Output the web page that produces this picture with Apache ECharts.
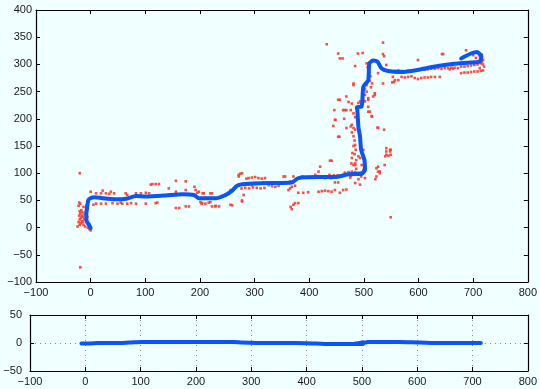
<!DOCTYPE html>
<html>
<head>
<meta charset="utf-8">
<script src="https://cdn.jsdelivr.net/npm/echarts@6/dist/echarts.min.js"></script>
<style>
html, body { margin: 0; padding: 0; background: #f0ffff; }
#chart { width: 540px; height: 389px; }
</style>
</head>
<body>
<div id="chart"></div>
<script>
// estimated trajectory (top: x-y view, bottom: x-z view)
var pathX = [0, -3, -7, -8, -7, -4, 2, 7, 22, 46, 65, 83, 101, 137, 168, 189, 198, 210, 229, 247,
  259, 268, 283, 326, 368, 380, 417, 447, 472, 496, 502, 501, 495, 493, 490, 488, 487, 496, 499, 508,
  510, 517, 525, 532, 544, 569, 599, 630, 666, 690, 712, 715, 707, 696, 678];
var pathY = [-1, 5, 11, 22, 33, 51, 55, 56, 54, 52, 53, 58, 57, 59, 61.5, 60, 54, 54, 54, 60,
  68, 77, 80, 82, 83, 91, 93, 93, 98, 99, 106, 124, 143, 167, 185, 216, 221, 223, 259, 271,
  302, 307, 305, 293, 288, 286, 290, 296, 301, 303, 305, 314, 323, 320, 311];
var pathZ = [-1, -1, -1, -1, -1, -1, -1, -1, 0, 0, 0, 1, 2, 2, 2, 2, 2, 2, 2, 2,
  2, 2, 1, 0, 0, 0, -1, -2, -2, -2, -2, -2, -2, -1, -1, -1, -1, 0, 1, 1,
  2, 2, 2, 2, 2, 2, 1, 0, 0, 0, 0, 0, 0, 0, 0];

// raw measurements (red dots)
var obsPoints = [
  [-21,46],[-19,44],[-22,40],[-20,30],[-17,32],[-15,28],[-21,22],[-18,18],[-14,20],[-20,15],
  [-16,12],[-22,10],[-18,8],[-13,5],[-10,2],[-5,0],[-2,-3],[0,-5],[-12,15],[-11,25],
  [-9,30],[-13,38],[-16,22],[-20,5],[-24,2],[-8,40],[-19,26],[-14,10],[-2,5],[-6,20],
  [-20,100],[-19,-73],
  [0,66],[10,63],[19,63],[28,63],[34,62],[43,63],[22,68],[37,66],[64,63],[67,60],[83,63],[92,63],
  [101,64],[107,63],[110,79],[113,80],[119,80],[125,80],
  [10,44],[19,44],[28,44],[49,44],[58,44],[67,44],[74,45],[83,44],[101,44],[119,45],[122,46],
  [5,42],[40,45],[55,46],
  [143,72],[156,66],[174,69],[190,75],[156,86],[174,85],[156,36],[174,39],[180,39],[162,36],
  [192,69],[198,66],[207,63],[216,54],[219,63],[205,63],[195,64],
  [204,45],[210,44],[216,46],[201,47],[203,44],[219,47],
  [222,39],[228,39],[235,39],[229,40],
  [247,60],[256,69],[259,41],[256,42],[222,63],
  [271,94],[277,100],[274,99],[271,97],[277,50],[277,48],[280,60],
  [289,91],[295,92],[301,93],[307,91],[313,90],[319,91],[285,90],
  [289,79],[295,78],[301,80],[276,72],[283,73],[290,72],[297,74],[304,73],[311,72],[318,73],
  [326,78],[332,76],[338,75],[344,77],[330,82],
  [353,94],[356,94],[365,85],[371,94],[368,75],[374,77],[362,69],[365,72],
  [380,64],[389,64],[398,65],[386,94],[389,94],
  [374,45],[371,42],[368,34],[366,38],[380,45],
  [411,97],[417,103],[420,112],[438,123],[441,94],
  [417,66],[423,67],[429,68],[435,67],[441,66],[447,69],
  [447,83],[453,83],[456,64],[462,69],[468,70],
  [465,101],[472,102],[478,103],[484,102],[490,101],[496,102],[502,111],
  [484,82],[493,79],[490,89],
  [477,118],[484,115],[493,128],[490,131],[499,143],[479,137],
  [523,109],[526,103],[529,100],[521,89],
  [538,115],[541,134],[548,140],[549,143],[549,19],
  [478,189],[481,183],[476,186],[484,180],[478,175],[481,168],[483,160],[484,152],[481,150],[485,143],
  [483,135],[478,128],[486,124],[484,118],[481,115],[486,108],[487,100],[480,97],[476,95],
  [432,94],[437,97],[445,96],[452,96],[466,98],[475,92],[429,91],[440,91],
  [496,115],[499,106],[495,94],[502,91],
  [526,112],[529,103],[523,94],
  [541,146],[548,143],[545,132],[539,131],[441,123],
  [526,183],[537,180],
  [511,213],[514,205],
  [456,235],[446,216],[448,198],[444,187],[455,167],[462,216],[464,200],
  [468,241],[472,231],[478,228],[476,216],[481,210],[465,216],[484,203],
  [505,250],[502,244],[499,235],[493,232],[490,229],[496,226],[502,232],[508,235],
  [520,247],[517,241],
  [505,302],[507,295],[510,285],[512,278],[511,270],[515,265],[513,258],[505,262],[502,255],
  [526,284],[535,265],[552,267],[553,277],[561,285],[541,299],[481,265],
  [432,337],[535,340],[453,320],[456,311],[461,311],[489,320],[498,321],[535,319],[537,315],[484,297],
  [447,198],[453,235],[468,216],[453,167],[468,183],
  [481,262],[525,184],[515,204],[520,244],[508,238],[508,213],[508,222],
  [549,134],[541,140],
  [643,319],[599,308],[687,326],[645,319],
  [557,288],[563,289],[569,288],[575,287],[581,288],[587,289],[593,289],[599,290],[605,291],[611,290],
  [617,291],[623,292],[630,292],[636,293],[642,292],[648,293],[654,293],[660,294],[666,294],
  [557,271],[555,268],[563,271],[569,277],
  [575,276],[581,277],[587,278],[593,275],[599,273],[605,275],[611,276],[617,276],[623,277],[630,277],[639,277],
  [657,291],[663,292],[672,293],[678,284],[684,285],[690,285],[696,286],[702,287],[708,287],[714,288],[718,289],
  [678,296],[684,296],[690,297],[696,298],[702,299],[708,300],[714,302],[716,305],[718,308],[714,311],
  [712,315],[716,318],[710,320],[700,317],[705,312],[718,300],[720,296],[712,293]
];

var xRange = [-100, 800];   // both panels, step 100
var yRangeTop = [-100, 400]; // step 50
var yRangeSide = [-50, 50];  // step 50

var chart = echarts.init(document.getElementById('chart'));

var font = 'Liberation Sans, Arial, sans-serif';
function fmt(v) { return String(v).replace('-', '\u2212'); }

function makeAxis(grid, pos, range, step, labels, margin, grid2) {
  return {
    type: 'value',
    gridIndex: grid,
    position: pos,
    min: range[0],
    max: range[1],
    interval: step,
    axisLine: { show: true, onZero: false, lineStyle: { color: '#000', width: 1.2 } },
    axisTick: { show: true, inside: true, length: 4, lineStyle: { color: '#000', width: 1 } },
    axisLabel: {
      show: labels, margin: margin, color: '#1a1a1a', fontSize: 11, fontFamily: font,
      formatter: fmt, showMinLabel: true, showMaxLabel: true
    },
    splitLine: {
      show: !!grid2,
      lineStyle: { color: '#8a8a8a', type: [1, 4], width: 1 }
    }
  };
}

var trackTop = pathX.map(function (x, i) { return [x, pathY[i]]; });
var trackSide = pathX.map(function (x, i) { return [x, pathZ[i]]; });

chart.setOption({
  backgroundColor: '#f0ffff',
  animation: false,
  grid: [
    { left: 36, right: 10, top: 10, height: 272 },
    { left: 30, right: 10, top: 315, height: 56 }
  ],
  xAxis: [
    makeAxis(0, 'bottom', xRange, 100, true, 5),
    makeAxis(0, 'top', xRange, 100, false, 5),
    makeAxis(1, 'bottom', xRange, 100, true, 5, true),
    makeAxis(1, 'top', xRange, 100, false, 5)
  ],
  yAxis: [
    makeAxis(0, 'left', yRangeTop, 50, true, 4),
    makeAxis(0, 'right', yRangeTop, 50, false, 4),
    makeAxis(1, 'left', yRangeSide, 50, true, 8, true),
    makeAxis(1, 'right', yRangeSide, 50, false, 8)
  ],
  series: [
    {
      type: 'scatter', xAxisIndex: 0, yAxisIndex: 0,
      data: obsPoints, symbol: 'rect', symbolSize: 2.6,
      itemStyle: { color: '#ff3b2b', opacity: 0.9 },
      silent: true
    },
    {
      type: 'line', xAxisIndex: 0, yAxisIndex: 0,
      data: trackTop, showSymbol: false, smooth: 0.2,
      lineStyle: { color: '#0a55f6', width: 4, join: 'round', cap: 'round' }
    },
    {
      type: 'line', xAxisIndex: 2, yAxisIndex: 2,
      data: trackSide, showSymbol: false, smooth: 0.2,
      lineStyle: { color: '#0a55f6', width: 4, join: 'round', cap: 'round' }
    }
  ]
});
</script>
</body>
</html>
